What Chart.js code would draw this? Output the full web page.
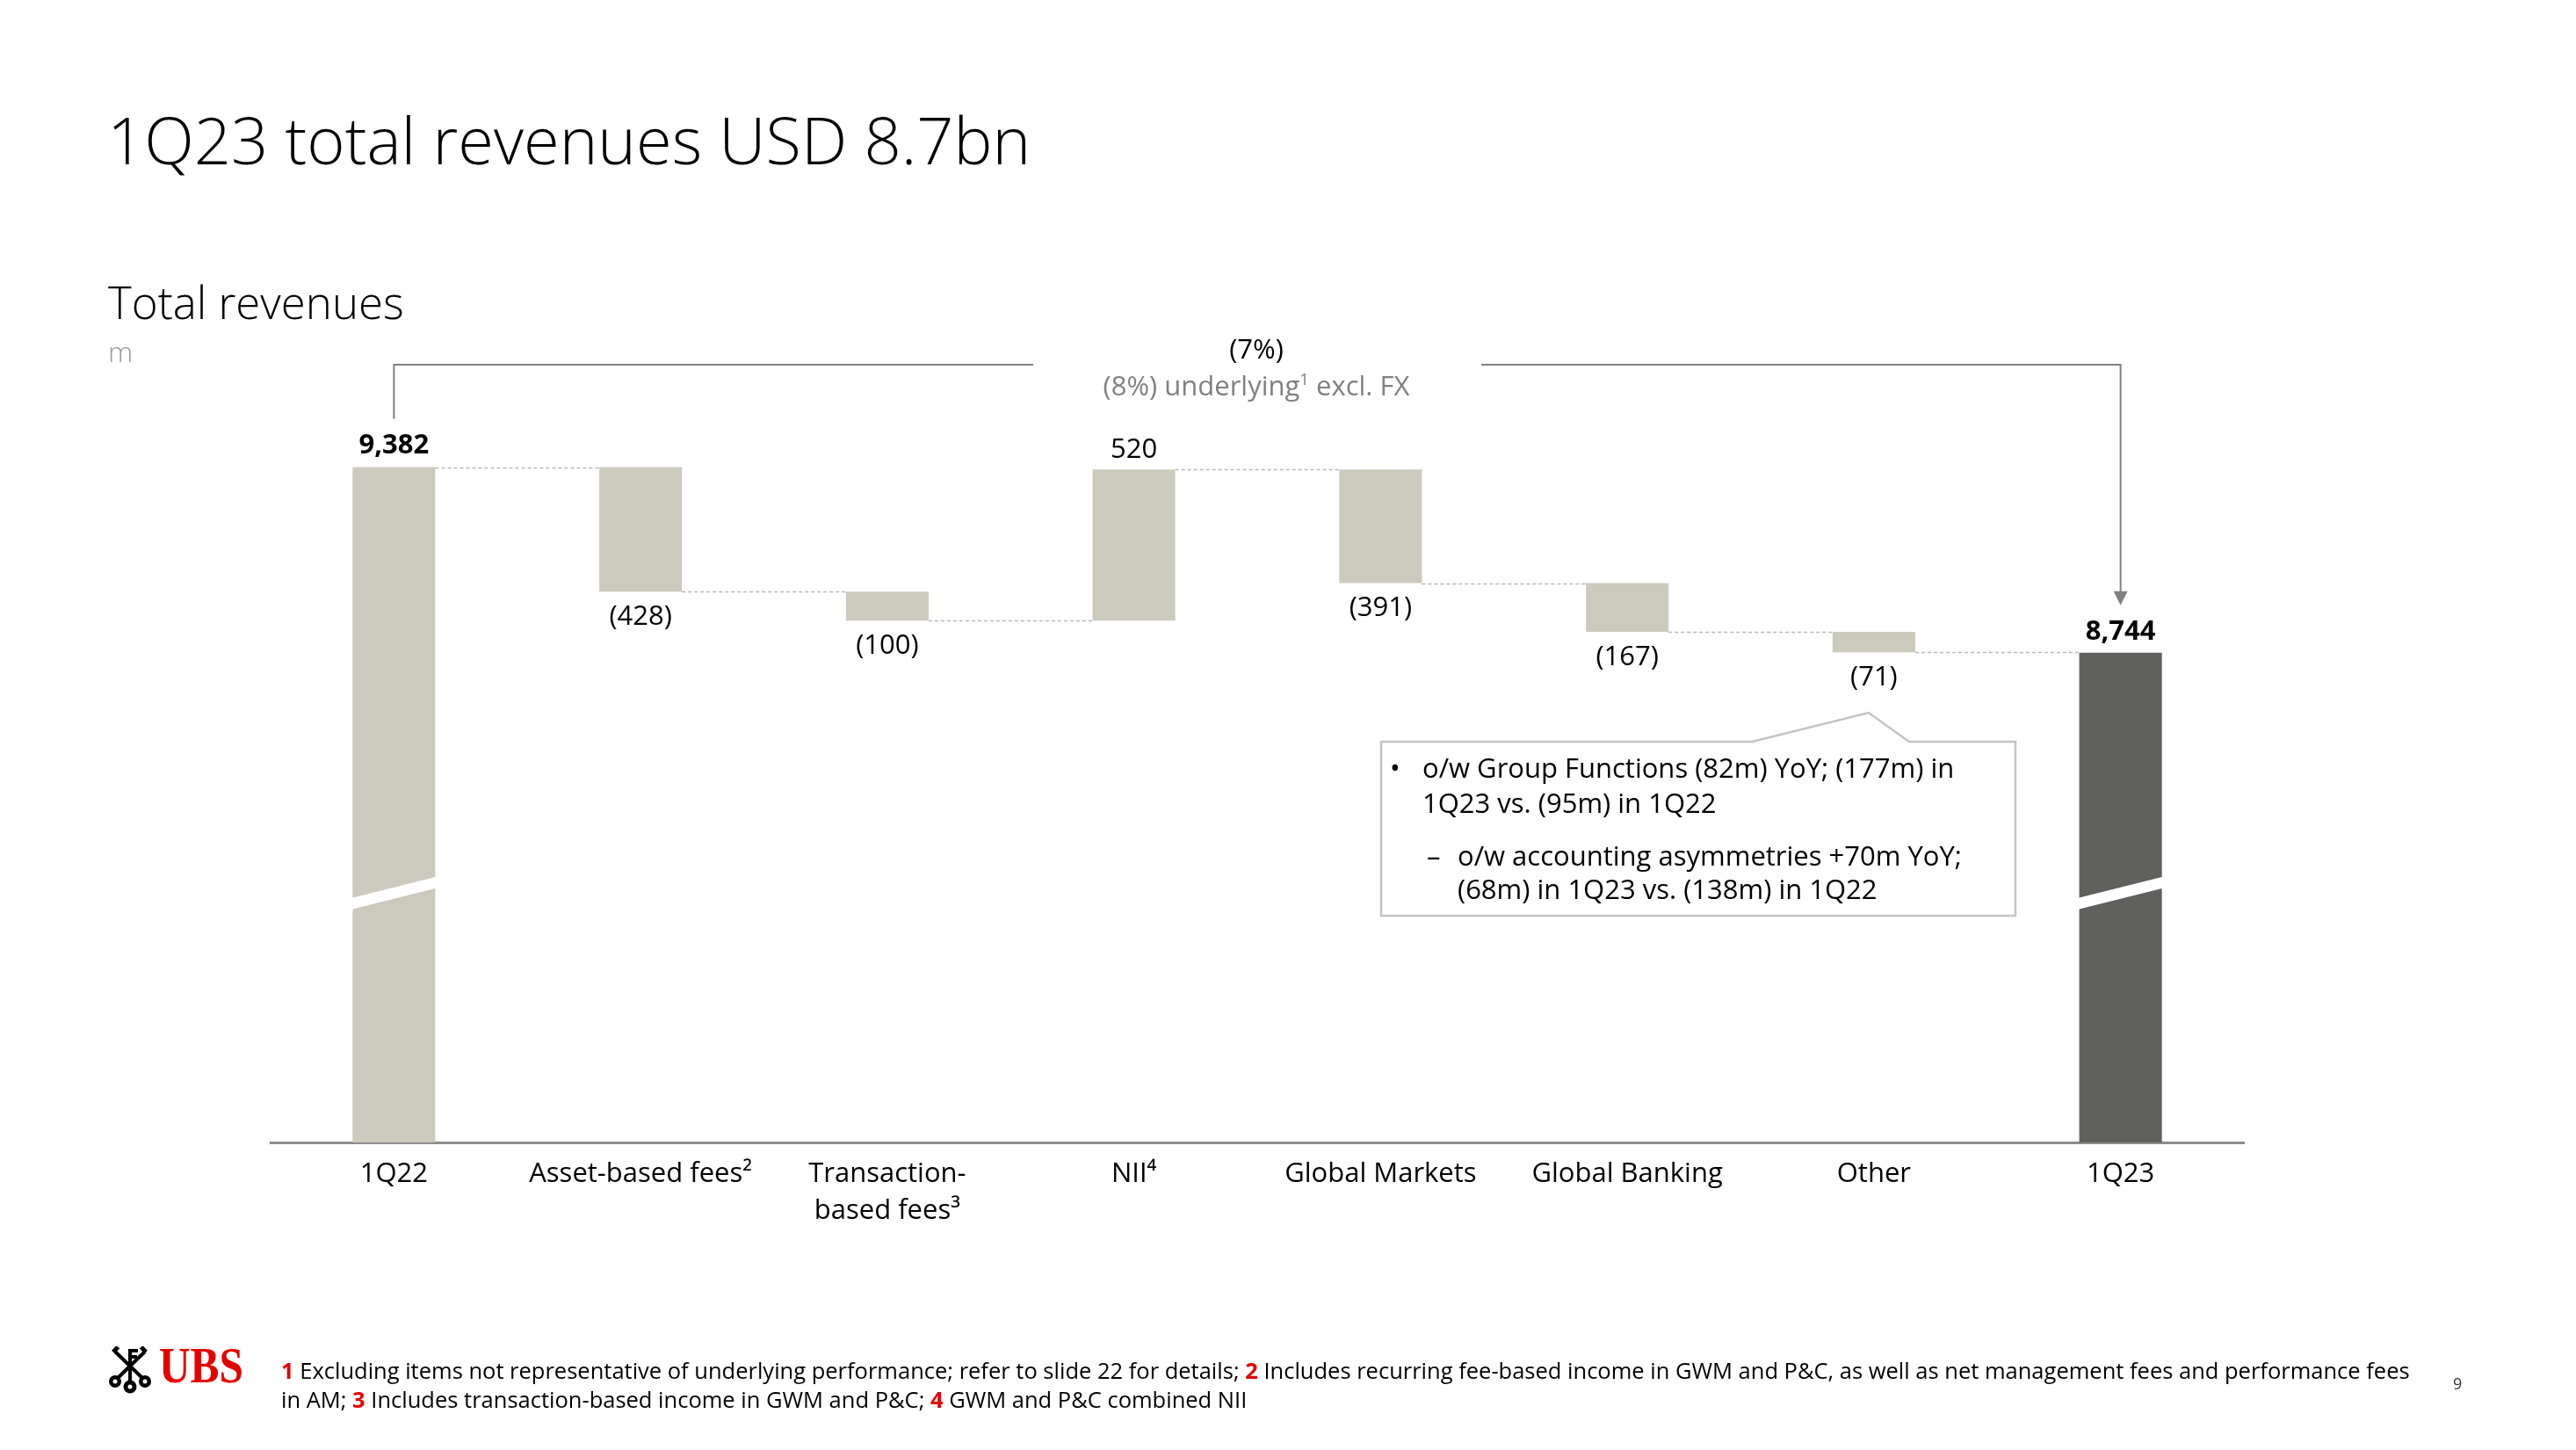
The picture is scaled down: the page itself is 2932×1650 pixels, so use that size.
<!DOCTYPE html>
<html>
<head>
<meta charset="utf-8">
<script src="https://cdn.jsdelivr.net/npm/chart.js@4.4.0/dist/chart.umd.min.js"></script>
<style>
  html, body { margin: 0; padding: 0; background: #fff; }
  body { width: 2932px; height: 1650px; position: relative; overflow: hidden; font-family: "Open Sans", sans-serif; color: #000; }
  #revenueChart { position: absolute; left: 0; top: 0; }
  .t { position: absolute; white-space: nowrap; line-height: 1; }
  sup { font-size: 0.6em; line-height: 0; vertical-align: 0.65em; }
  #title { left: 122px; top: 122px; font-size: 74px; font-weight: 300; }
  #subtitle { left: 123px; top: 318px; font-size: 51px; font-weight: 300; }
  #unit { left: 123px; top: 384px; font-size: 32px; font-weight: 300; color: #999; }
  #yoy { left: 1430px; top: 381px; font-size: 31px; transform: translateX(-50%); }
  #underlying { left: 1430px; top: 423px; font-size: 31px; color: #808080; transform: translateX(-50%); }
  .note { font-size: 31px; }
  .foot { left: 320px; font-size: 25.5px; }
  .foot b { color: #e60000; }
  #ubs { left: 181px; top: 1526px; font-family: "Liberation Serif", serif; font-weight: bold; font-size: 56px; color: #e60000; transform: scaleX(0.88); transform-origin: left; }
  #page { left: 2792px; top: 1565px; font-size: 18px; color: #333; }
  #keys { position: absolute; left: 123px; top: 1532px; }
</style>
</head>
<body>
<canvas id="revenueChart" width="2932" height="1650"></canvas>

<div class="t" id="title">1Q23 total revenues USD 8.7bn</div>
<div class="t" id="subtitle">Total revenues</div>
<div class="t" id="unit">m</div>
<div class="t" id="yoy">(7%)</div>
<div class="t" id="underlying">(8%) underlying<sup>1</sup> excl. FX</div>

<div class="t note" style="left:1582px; top:858px;">•</div>
<div class="t note" style="left:1619px; top:858px;">o/w Group Functions (82m) YoY; (177m) in</div>
<div class="t note" style="left:1619px; top:898px;">1Q23 vs. (95m) in 1Q22</div>
<div class="t note" style="left:1624px; top:958px;">–</div>
<div class="t note" style="left:1659px; top:958px;">o/w accounting asymmetries +70m YoY;</div>
<div class="t note" style="left:1659px; top:996px;">(68m) in 1Q23 vs. (138m) in 1Q22</div>

<svg id="keys" width="50" height="54" viewBox="0 0 50 54">
  <g stroke="#000" stroke-width="4" fill="none">
    <line x1="25" y1="44" x2="25" y2="3"/>
    <line x1="9" y1="38" x2="42" y2="6"/>
    <line x1="41" y1="38" x2="8" y2="6"/>
  </g>
  <g fill="#000">
    <rect x="27" y="3" width="7" height="4"/><rect x="27" y="10" width="6" height="4"/>
    <rect x="36" y="1" width="8" height="5" transform="rotate(45 40 4)"/>
    <rect x="5" y="1" width="8" height="5" transform="rotate(-45 9 4)"/>
    <circle cx="25" cy="46" r="7.5"/><circle cx="8" cy="40" r="7"/><circle cx="42" cy="40" r="7"/>
  </g>
  <g fill="#fff"><circle cx="25" cy="46" r="2.5"/><circle cx="8" cy="40" r="2.5"/><circle cx="42" cy="40" r="2.5"/></g>
</svg>
<div class="t" id="ubs">UBS</div>
<div class="t foot" style="top:1547px;"><b>1</b> Excluding items not representative of underlying performance; refer to slide 22 for details; <b>2</b> Includes recurring fee-based income in GWM and P&amp;C, as well as net management fees and performance fees</div>
<div class="t foot" style="top:1580px;">in AM; <b>3</b> Includes transaction-based income in GWM and P&amp;C; <b>4</b> GWM and P&amp;C combined NII</div>
<div class="t" id="page">9</div>

<script>
const categories = ["1Q22", "Asset-based fees²", ["Transaction-", "based fees³"], "NII⁴", "Global Markets", "Global Banking", "Other", "1Q23"];
const startTotal = 9382;
const endTotal = 8744;
const changes = [-428, -100, 520, -391, -167, -71];

// broken value axis
const yMin = 7060;
const yMax = 9840;

const lightColor = "#cbcabd";
const darkColor = "#5f605e";

// floating bars for the waterfall
let running = startTotal;
const bars = [[yMin, startTotal]];
const levels = [startTotal];
changes.forEach(function (c) {
  bars.push([running, running + c]);
  running += c;
  levels.push(running);
});
bars.push([yMin, endTotal]);

const labelText = [startTotal.toLocaleString("en-US")]
  .concat(changes.map(function (c) { return c < 0 ? "(" + Math.abs(c) + ")" : String(c); }))
  .concat([endTotal.toLocaleString("en-US")]);

const colors = categories.map(function (c, i) { return i === categories.length - 1 ? darkColor : lightColor; });

const waterfallExtras = {
  id: "waterfallExtras",
  afterDatasetsDraw(chart) {
    const ctx = chart.ctx;
    const els = chart.getDatasetMeta(0).data;
    const y = chart.scales.y;
    const area = chart.chartArea;
    const last = els.length - 1;
    ctx.save();

    // dashed connectors
    ctx.strokeStyle = "#b8b8b8";
    ctx.lineWidth = 1.5;
    ctx.setLineDash([4, 3]);
    for (let i = 0; i < last; i++) {
      const py = Math.round(y.getPixelForValue(levels[i])) + 0.5;
      ctx.beginPath();
      ctx.moveTo(els[i].x + els[i].width / 2, py);
      ctx.lineTo(els[i + 1].x - els[i + 1].width / 2, py);
      ctx.stroke();
    }
    ctx.setLineDash([]);

    // axis break on the total bars
    const breakY = area.bottom - area.height * 0.309;
    [0, last].forEach(function (i) {
      const el = els[i];
      const l = el.x - el.width / 2 - 1, r = el.x + el.width / 2 + 1;
      ctx.fillStyle = "#fff";
      ctx.beginPath();
      ctx.moveTo(l, breakY + 6);
      ctx.lineTo(r, breakY - 18);
      ctx.lineTo(r, breakY - 5);
      ctx.lineTo(l, breakY + 19);
      ctx.closePath();
      ctx.fill();
    });

    // value labels
    ctx.textAlign = "center";
    ctx.textBaseline = "middle";
    ctx.fillStyle = "#000";
    els.forEach(function (el, i) {
      const top = Math.min(el.y, el.base);
      const bottom = Math.max(el.y, el.base);
      const isTotal = i === 0 || i === last;
      ctx.font = (isTotal ? "bold " : "") + "31px 'Open Sans'";
      if (isTotal) {
        ctx.fillText(labelText[i], el.x, top - 24);
      } else if (changes[i - 1] > 0) {
        ctx.fillText(labelText[i], el.x, top - 22);
      } else {
        ctx.fillText(labelText[i], el.x, bottom + 29);
      }
    });
    ctx.restore();
  },
  afterDraw(chart) {
    const ctx = chart.ctx;
    const els = chart.getDatasetMeta(0).data;
    const first = els[0], end = els[els.length - 1];
    const firstTop = Math.min(first.y, first.base);
    const endTop = Math.min(end.y, end.base);
    const lineY = 415;
    const mid = (first.x + end.x) / 2;
    ctx.save();

    // bracket with arrow
    ctx.strokeStyle = "#808080";
    ctx.lineWidth = 2;
    ctx.beginPath();
    ctx.moveTo(first.x, firstTop - 55);
    ctx.lineTo(first.x, lineY);
    ctx.lineTo(mid - 255, lineY);
    ctx.moveTo(mid + 255, lineY);
    ctx.lineTo(end.x, lineY);
    ctx.lineTo(end.x, endTop - 68);
    ctx.stroke();
    ctx.fillStyle = "#808080";
    ctx.beginPath();
    ctx.moveTo(end.x - 8, endTop - 70);
    ctx.lineTo(end.x + 8, endTop - 70);
    ctx.lineTo(end.x, endTop - 54);
    ctx.closePath();
    ctx.fill();

    // callout box pointing at "Other"
    const other = els[6];
    ctx.strokeStyle = "#c4c4c4";
    ctx.lineWidth = 2.5;
    ctx.beginPath();
    ctx.moveTo(1994, 844);
    ctx.lineTo(other.x - 6, 811);
    ctx.lineTo(2173, 844);
    ctx.lineTo(2294, 844);
    ctx.lineTo(2294, 1042);
    ctx.lineTo(1572, 1042);
    ctx.lineTo(1572, 844);
    ctx.closePath();
    ctx.stroke();
    ctx.restore();
  }
};

new Chart(document.getElementById("revenueChart"), {
  type: "bar",
  data: {
    labels: categories,
    datasets: [
      {
        data: bars,
        backgroundColor: colors,
        barPercentage: 0.335,
        categoryPercentage: 1,
      },
    ],
  },
  options: {
    responsive: false,
    animation: false,
    layout: { padding: { left: 308, right: 378, top: 380, bottom: 250 } },
    plugins: { legend: { display: false }, tooltip: { enabled: false } },
    scales: {
      x: {
        grid: { display: false, drawTicks: false },
        border: { color: "#8c8c8c", width: 3 },
        ticks: { color: "#000", font: { family: "Open Sans", size: 31, lineHeight: 1.35 }, padding: 15, maxRotation: 0, autoSkip: false },
        afterFit: function (scale) { scale.height = 100; },
      },
      y: { display: false, min: yMin, max: yMax },
    },
  },
  plugins: [waterfallExtras],
});
</script>
</body>
</html>
